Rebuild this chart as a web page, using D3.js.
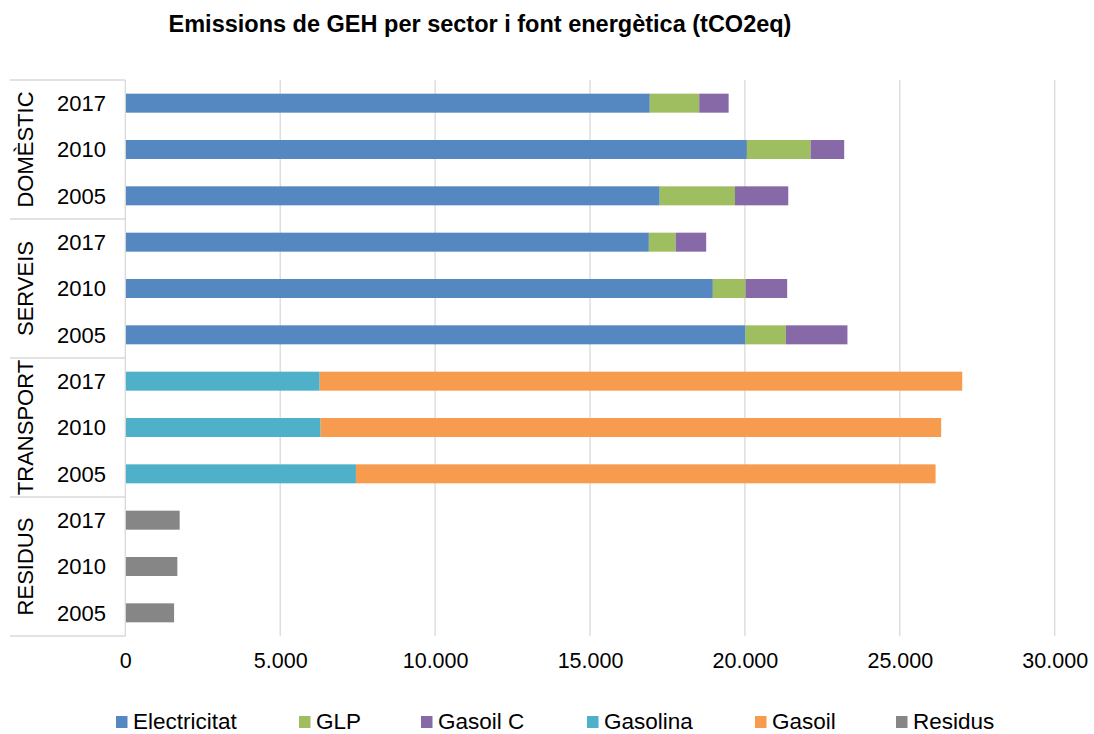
<!DOCTYPE html>
<html><head><meta charset="utf-8">
<script src="https://cdn.jsdelivr.net/npm/d3@7"></script>
<style>body{margin:0;background:#fff;}svg{display:block;font-family:"Liberation Sans",Arial,sans-serif;}</style>
</head><body>
<svg id="c" width="1094" height="734"></svg>
<script>
const sectors = ["DOMÈSTIC","SERVEIS","TRANSPORT","RESIDUS"];
const years = ["2017","2010","2005"];
const series = ["Electricitat","GLP","Gasoil C","Gasolina","Gasoil","Residus"];
const colors = ["#5587c1","#9fbe5f","#8669a6","#4fb0c9","#f79c4f","#868686"];
// values per row (sector, year) in order of rows top to bottom
const electricitat = [16930,20065,17250, 16900,18965,20020, 0,0,0, 0,0,0];
const glp          = [1595,2055,2430, 865,1055,1300, 0,0,0, 0,0,0];
const gasoilC      = [950,1085,1720, 985,1345,1990, 0,0,0, 0,0,0];
const gasolina     = [0,0,0, 0,0,0, 6275,6305,7445, 0,0,0];
const gasoil       = [0,0,0, 0,0,0, 20740,20030,18710, 0,0,0];
const residus      = [0,0,0, 0,0,0, 0,0,0, 1755,1680,1575];
const xTicks = [0,5000,10000,15000,20000,25000,30000];
const title = "Emissions de GEH per sector i font energètica (tCO2eq)";

const seriesValues = [electricitat,glp,gasoilC,gasolina,gasoil,residus];
const rows = [];
sectors.forEach((s,si)=>years.forEach((y,yi)=>{
  const i = si*3+yi;
  const r = {key:s+"|"+y, sector:s, year:y};
  series.forEach((n,k)=>r[n]=seriesValues[k][i]);
  rows.push(r);
}));

const svg = d3.select("#c");
const L=125.3, R=1054.7, T=80, B=636;
const x = d3.scaleLinear().domain([0,30000]).range([L,R]);
const y = d3.scaleBand().domain(rows.map(r=>r.key)).range([T,B]).paddingInner(0.59).paddingOuter(0.295);

// title
svg.append("text").attr("x",480).attr("y",32).attr("text-anchor","middle")
  .attr("font-size",23.5).attr("font-weight","bold").attr("fill","#000").text(title);

// gridlines
svg.append("g").selectAll("line").data(xTicks.slice(1)).join("line")
  .attr("x1",d=>x(d)).attr("x2",d=>x(d)).attr("y1",T).attr("y2",B)
  .attr("stroke","#d9d9d9").attr("stroke-width",1.3);

// stacked bars
const stack = d3.stack().keys(series)(rows);
svg.append("g").selectAll("g").data(stack).join("g")
  .attr("fill",(d,i)=>colors[i])
  .selectAll("rect").data(d=>d.filter(p=>p[1]-p[0]>0)).join("rect")
  .attr("x",d=>x(d[0])).attr("width",d=>x(d[1])-x(d[0]))
  .attr("y",d=>y(d.data.key)).attr("height",y.bandwidth());

// x axis labels
const xa = svg.append("g").attr("transform",`translate(0,${B})`)
  .call(d3.axisBottom(x).tickValues(xTicks).tickSize(0).tickPadding(17)
    .tickFormat(d=>d3.format(",")(d).replace(/,/g,".")));
xa.select(".domain").remove();
xa.selectAll("text").attr("font-size",21.5).attr("fill","#000").attr("font-family","Liberation Sans, Arial, sans-serif");

// category axis box
const g = svg.append("g");
g.append("line").attr("x1",L).attr("x2",L).attr("y1",T).attr("y2",B).attr("stroke","#d9d9d9").attr("stroke-width",1.3);
const bounds = [T, y(rows[3].key)-y.step()*y.paddingInner()/2, y(rows[6].key)-y.step()*y.paddingInner()/2, y(rows[9].key)-y.step()*y.paddingInner()/2, B];
g.selectAll("line.sep").data(bounds).join("line").attr("class","sep")
  .attr("x1",10).attr("x2",L).attr("y1",d=>d).attr("y2",d=>d)
  .attr("stroke","#d9d9d9").attr("stroke-width",1.3);

// year labels
g.selectAll("text.yr").data(rows).join("text").attr("class","yr")
  .attr("x",106).attr("y",d=>y(d.key)+y.bandwidth()/2).attr("dy","0.36em")
  .attr("text-anchor","end").attr("font-size",22).attr("fill","#000").text(d=>d.year);

// sector labels
g.selectAll("text.sec").data(sectors).join("text").attr("class","sec")
  .attr("transform",(d,i)=>`translate(33,${(bounds[i]+bounds[i+1])/2}) rotate(-90)`)
  .attr("text-anchor","middle").attr("font-size",22).attr("fill","#000").text(d=>d);

// legend
const legX = [116,299,421,587,755,896];
const lg = svg.append("g").selectAll("g").data(series).join("g")
  .attr("transform",(d,i)=>`translate(${legX[i]},729)`);
lg.append("rect").attr("x",0).attr("y",-13).attr("width",11.5).attr("height",12).attr("fill",(d,i)=>colors[i]);
lg.append("text").attr("x",17).attr("y",0).attr("font-size",22.5).attr("fill","#000").text(d=>d);
</script>
</body></html>
